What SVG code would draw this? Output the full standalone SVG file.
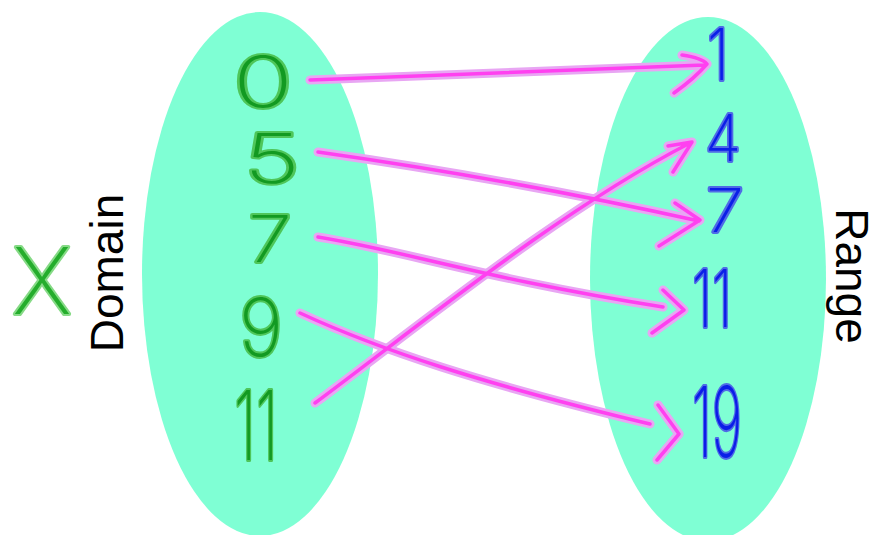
<svg xmlns="http://www.w3.org/2000/svg" width="877" height="535" viewBox="0 0 877 535">
<style>
.set{fill:#7fffd4}
.dg{font-family:Inter,"Open Sans","DejaVu Sans",sans-serif;font-weight:200;text-anchor:middle;paint-order:stroke;stroke-linejoin:round;stroke-width:4}
.g{fill:#129a22;stroke:#4fc65a}
.b{fill:#0b1ee8;stroke:#4f6be6}
.lbl{font-family:"Liberation Sans",Arial,sans-serif;font-size:46px;fill:#000;text-anchor:middle}
.halo{fill:none;stroke:#e8a6f3;stroke-width:9;stroke-linecap:round;stroke-linejoin:round}
.core{fill:none;stroke:#ff40f0;stroke-width:3.5;stroke-linecap:round;stroke-linejoin:round}
</style>
<rect width="877" height="535" fill="#fff"/>
<g id="domain-set"><ellipse class="set" cx="260" cy="274" rx="118" ry="262"/></g>
<g id="range-set"><ellipse class="set" cx="708" cy="279" rx="118" ry="262"/></g>
<g id="x-label"><text class="dg" x="42" y="314" font-size="92" textLength="60" lengthAdjust="spacingAndGlyphs" style="fill:#24ad2c;stroke:#86da86">X</text></g>
<g id="domain-label"><text class="lbl" transform="translate(123,273) rotate(-90)">Domain</text></g>
<g id="range-label"><text class="lbl" transform="translate(836,276) rotate(90)">Range</text></g>
<g id="d0"><text class="dg g" x="263" y="107" font-size="70" textLength="60" lengthAdjust="spacingAndGlyphs">0</text></g>
<g id="d5"><text class="dg g" x="272" y="183" font-size="68" textLength="56" lengthAdjust="spacingAndGlyphs">5</text></g>
<g id="d7"><text class="dg g" x="270" y="262" font-size="64" textLength="44" lengthAdjust="spacingAndGlyphs">7</text></g>
<g id="d9"><text class="dg g" x="261" y="356" font-size="80" textLength="44" lengthAdjust="spacingAndGlyphs">9</text></g>
<g id="d11"><text class="dg g" x="256" y="460" font-size="96" textLength="44" lengthAdjust="spacingAndGlyphs">11</text></g>
<g id="r1"><text class="dg b" x="718" y="80" font-size="72" textLength="22" lengthAdjust="spacingAndGlyphs">1</text></g>
<g id="r4"><text class="dg b" x="723" y="161" font-size="64" textLength="36" lengthAdjust="spacingAndGlyphs">4</text></g>
<g id="r7"><text class="dg b" x="725" y="232" font-size="60" textLength="38" lengthAdjust="spacingAndGlyphs">7</text></g>
<g id="r11"><text class="dg b" x="712" y="327" font-size="80" textLength="40" lengthAdjust="spacingAndGlyphs">11</text></g>
<g id="r19"><text class="dg b" x="717" y="457" font-size="98" textLength="50" lengthAdjust="spacingAndGlyphs">19</text></g>
<g id="connectors">
<g class="halo">
<path d="M310,80 C420,76 560,70 704,65 M682,55 Q702,58 707,64 Q695,78 674,93"/>
<path d="M318,152 C430,168 560,190 699,221 M675,203 L700,220 L659,246"/>
<path d="M315,403 C420,325 560,210 690,143 M668,146 L692,142 L673,172"/>
<path d="M318,237 C400,250 490,280 663,307 M663,290 L684,310 L652,333"/>
<path d="M300,313 C380,350 480,383 650,424 M658,405 L679,434 L657,460"/>
</g>
<g class="core">
<path d="M310,80 C420,76 560,70 704,65 M682,55 Q702,58 707,64 Q695,78 674,93"/>
<path d="M318,152 C430,168 560,190 699,221 M675,203 L700,220 L659,246"/>
<path d="M315,403 C420,325 560,210 690,143 M668,146 L692,142 L673,172"/>
<path d="M318,237 C400,250 490,280 663,307 M663,290 L684,310 L652,333"/>
<path d="M300,313 C380,350 480,383 650,424 M658,405 L679,434 L657,460"/>
</g>
</g>
</svg>
